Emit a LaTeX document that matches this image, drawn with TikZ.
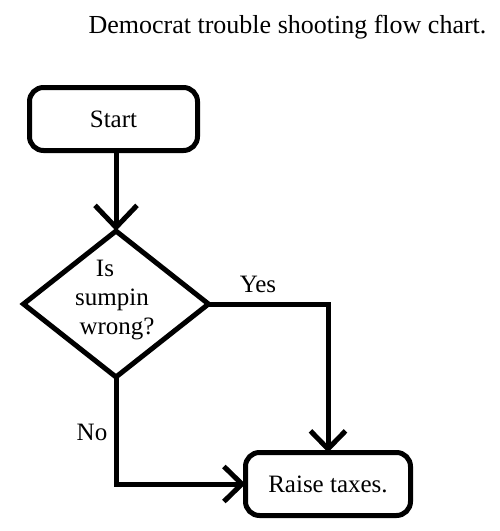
\documentclass[tikz,border=0pt]{standalone}
\usepackage{fontspec}
\setmainfont{Liberation Serif}
\usetikzlibrary{shapes.geometric,arrows.meta}
\begin{document}
\begin{tikzpicture}[x=1pt,y=-1pt,
  lw/.style={line width=5pt},
  termbox/.style={lw,draw,rounded corners=14pt,inner sep=0pt,outer sep=0pt,
    font=\fontsize{25}{29}\selectfont},
  decbox/.style={lw,draw,diamond,inner sep=0pt,outer sep=0pt,
    minimum width=185pt,minimum height=146pt},
  lbl/.style={font=\fontsize{25}{29}\selectfont,inner sep=0pt},
  conn/.style={lw,-{Straight Barb[length=18pt,width=35pt]}},
  bigconn/.style={lw,-{Straight Barb[length=22pt,width=42pt]}}]
\useasboundingbox (0,0) rectangle (499,531);
\node[anchor=base,font=\fontsize{26}{30}\selectfont,inner sep=0pt] (title) at (287.5,33) {Democrat trouble shooting flow chart.};
\node[termbox,minimum width=168pt,minimum height=63pt] (start) at (113.5,119) {Start};
\node[decbox] (dia) at (116,304) {};
\node[lbl,align=center] (q) at (117,300.5) {\hspace*{-24pt}Is\\\hspace*{-10pt}sumpin\\wrong?};
\node[termbox,minimum width=165pt,minimum height=63pt] (raise) at (328,484) {Raise taxes.};
\node[lbl,anchor=base] (yes) at (258,292) {Yes};
\node[lbl,anchor=base] (no) at (92,440) {No};
\draw[bigconn] (dia.north |- start.south) -- (dia.north);
\draw[conn] (dia.east) -| (raise.north);
\draw[conn] (dia.south) |- (raise.west);
\end{tikzpicture}
\end{document}
